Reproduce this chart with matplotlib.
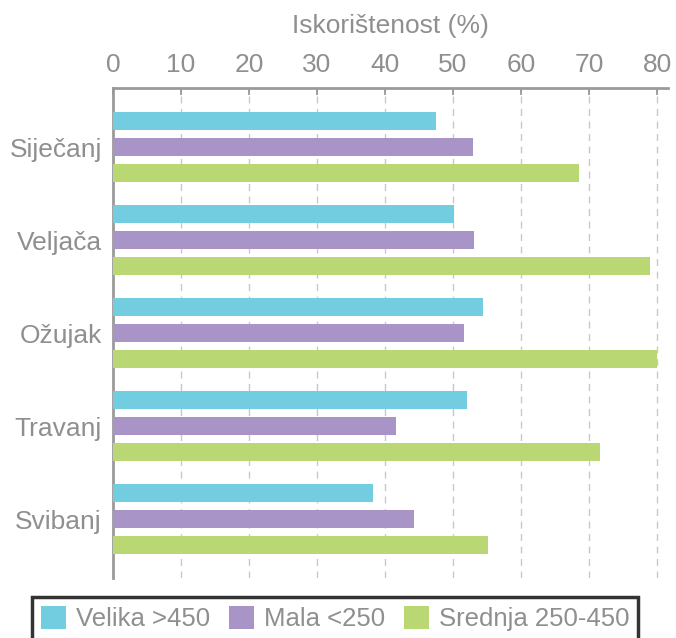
import numpy as np
import matplotlib
matplotlib.use("Agg")
import matplotlib.pyplot as plt
from matplotlib.patches import Patch

plt.rcParams['font.family'] = ['Liberation Sans Narrow', 'Liberation Sans', 'DejaVu Sans']

months = ['Siječanj', 'Veljača', 'Ožujak', 'Travanj', 'Svibanj']
series_names = ['Velika >450', 'Mala <250', 'Srednja 250-450']
velika = [47.5, 50.1, 54.4, 52.0, 38.3]
mala = [53.0, 53.1, 51.6, 41.6, 44.2]
srednja = [68.5, 79.0, 80.0, 71.6, 55.2]
colors = ['#72CDE0', '#A994C8', '#B9D874']
xticks = [0, 10, 20, 30, 40, 50, 60, 70, 80]

gray = '#8f8f8f'

fig = plt.figure(figsize=(6.76, 6.38), dpi=100)
ax = fig.add_axes([0.167, 0.094, 0.821, 0.768])

y = np.arange(len(months))
h = 0.185
off = 0.28
for vals, c, o in zip([velika, mala, srednja], colors, [-off, 0, off]):
    ax.barh(y + o, vals, height=h, color=c, zorder=3)

ax.set_ylim(4.634, -0.634)
ax.set_xlim(0, 81.6)
ax.set_yticks(y)
ax.set_yticklabels(months)
ax.set_xticks(xticks)
ax.xaxis.tick_top()
ax.xaxis.set_label_position('top')
ax.set_xlabel('Iskorištenost (%)', fontsize=19, color=gray, labelpad=14)
ax.tick_params(axis='x', colors=gray, labelsize=19, direction='in', length=5, width=1.2, pad=8)
ax.tick_params(axis='y', colors=gray, labelsize=19, length=0, pad=8)

for gx in xticks[1:]:
    ax.axvline(gx, color='#c8c8c8', linestyle=(0, (5, 4)), linewidth=1, zorder=1)

for s in ['right', 'bottom']:
    ax.spines[s].set_visible(False)
ax.spines['top'].set_color('#9a9a9a')
ax.spines['top'].set_linewidth(2)
ax.spines['left'].set_color('#9a9a9a')
ax.spines['left'].set_linewidth(2)

handles = [Patch(facecolor=c, edgecolor='none') for c in colors]
leg = fig.legend(handles, series_names, loc='lower center', bbox_to_anchor=(0.496, -0.024),
                 ncol=3, fontsize=18.5, frameon=True, fancybox=False, handlelength=0.95,
                 handleheight=1.0, handletextpad=0.4, columnspacing=0.75, borderpad=0.35)
leg.get_frame().set_edgecolor('black')
leg.get_frame().set_linewidth(2.5)
for t in leg.get_texts():
    t.set_color(gray)

fig.savefig('out.png', dpi=100)
